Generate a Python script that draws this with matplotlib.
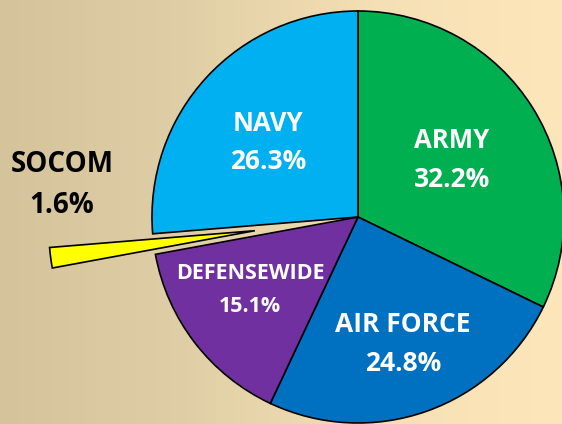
import numpy as np
import matplotlib
matplotlib.use('Agg')
import matplotlib.pyplot as plt
from matplotlib.colors import LinearSegmentedColormap

# budget share by component (clockwise from 12 o'clock)
components = ['ARMY', 'AIR FORCE', 'DEFENSEWIDE', 'SOCOM', 'NAVY']
shares = [32.2, 24.8, 15.1, 1.6, 26.3]
slice_colors = ['#00B050', '#0070C0', '#7030A0', '#FFFF00', '#00B0F0']
pulled_out = ['SOCOM']

# label layout, in pixels from the top-left corner (x, baseline of name, baseline of pct)
label_pos = {
    'ARMY': (452, 148, 187),
    'AIR FORCE': (403, 332, 371),
    'DEFENSEWIDE': (250, 279, 312),
    'SOCOM': (62, 172, 213),
    'NAVY': (268, 131, 169),
}
label_size = {'ARMY': (18.5, 19), 'AIR FORCE': (19, 19), 'DEFENSEWIDE': (15.5, 15.5),
              'SOCOM': (20, 20), 'NAVY': (18.5, 19)}

W, H = 562, 424
fig = plt.figure(figsize=(W / 100, H / 100), dpi=100)
ax = fig.add_axes([0, 0, 1, 1])

# tan-to-cream background
bg = LinearSegmentedColormap.from_list('bg', ['#d4c39b', '#e0cfa6', '#f5dfb4', '#fde7ba'])
grad = np.tile(np.linspace(0, 1, 256), (2, 1))
ax.imshow(grad, cmap=bg, extent=[0, W, 0, H], aspect='auto', zorder=0)

cx, cy, r = 358, H - 217, 206
explode = [104 if c in pulled_out else 0 for c in components]
wedges, _ = ax.pie(shares, colors=slice_colors, startangle=90, counterclock=False,
                   center=(cx, cy), radius=r, explode=explode,
                   wedgeprops=dict(edgecolor='black', linewidth=1.2),
                   frame=True)
for w in wedges:
    w.set_zorder(2)

for name, val in zip(components, shares):
    x, yb1, yb2 = label_pos[name]
    s1, s2 = label_size[name]
    col = 'black' if name in pulled_out else 'white'
    ax.text(x, H - yb1, name, ha='center', va='baseline', fontsize=s1,
            fontweight='bold', color=col, family='Open Sans', zorder=3)
    ax.text(x, H - yb2, f'{val}%', ha='center', va='baseline', fontsize=s2,
            fontweight='bold', color=col, family='Open Sans', zorder=3)

ax.set_xlim(0, W)
ax.set_ylim(0, H)
ax.set_aspect('auto')
ax.axis('off')

fig.savefig('out.png', dpi=100)
